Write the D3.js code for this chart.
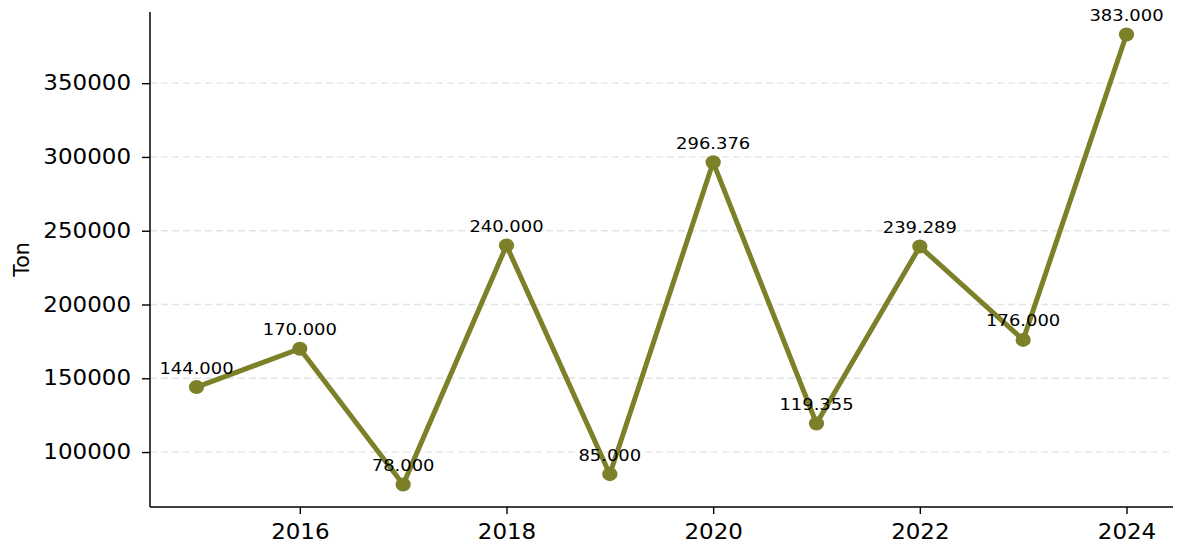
<!DOCTYPE html>
<html><head><meta charset="utf-8">
<script src="https://cdn.jsdelivr.net/npm/d3@7"></script>
<style>
body{margin:0;background:#fff;}
svg{display:block;font-family:"DejaVu Sans",sans-serif;}
</style></head>
<body><svg id="c" width="1178" height="552"></svg>
<script>
const years = [2015,2016,2017,2018,2019,2020,2021,2022,2023,2024];
const values = [144000,170000,78000,240000,85000,296376,119355,239289,176000,383000];
const labels = ["144.000","170.000","78.000","240.000","85.000","296.376","119.355","239.289","176.000","383.000"];
const yTicks = [100000,150000,200000,250000,300000,350000];
const xTicks = [2016,2018,2020,2022,2024];
const yTitle = "Ton";

const svg = d3.select("#c");
const L=150, R=1173, T=12, B=507;
const SX = 1.12;
const x = d3.scaleLinear().domain([2014.55,2024.45]).range([L,R]);
const y = d3.scaleLinear().domain([62750,398250]).range([B,T]);
const color = "#7b8029";

function stretch(sel){
  sel.each(function(){
    const w = this.getComputedTextLength();
    d3.select(this).attr("textLength", w*SX).attr("lengthAdjust","spacingAndGlyphs");
  });
}

// grid
svg.append("g").selectAll("line").data(yTicks).join("line")
  .attr("x1",L).attr("x2",R).attr("y1",d=>y(d)).attr("y2",d=>y(d))
  .attr("stroke","#e3e3e3").attr("stroke-width",1.3).attr("stroke-dasharray","7,4");

const ya = svg.append("g").attr("transform",`translate(${L},0)`)
  .call(d3.axisLeft(y).tickValues(yTicks).tickFormat(d3.format("d")).tickSize(8).tickPadding(11));
const xa = svg.append("g").attr("transform",`translate(0,${B})`)
  .call(d3.axisBottom(x).tickValues(xTicks).tickFormat(d3.format("d")).tickSize(7).tickPadding(10));
[ya,xa].forEach(a=>{
  a.selectAll("text").attr("font-size",20.5).attr("fill","#000").attr("font-family","DejaVu Sans");
  a.selectAll("line").attr("stroke","#000").attr("stroke-width",1.4);
  a.select(".domain").attr("stroke","#000").attr("stroke-width",1.5);
});
ya.select(".domain").attr("d",`M0,${B}V${T}`);
xa.select(".domain").attr("d",`M${L},0H${R}`);
stretch(ya.selectAll("text"));
stretch(xa.selectAll("text"));

svg.append("text").attr("transform",`translate(29,${(T+B)/2}) rotate(-90)`)
  .attr("text-anchor","middle").attr("font-size",20.5).text(yTitle);

const pts = years.map((d,i)=>({x:d,y:values[i],l:labels[i]}));
svg.append("path").datum(pts)
  .attr("d",d3.line().x(d=>x(d.x)).y(d=>y(d.y)))
  .attr("fill","none").attr("stroke",color).attr("stroke-width",5).attr("stroke-linejoin","round");
svg.append("g").selectAll("ellipse").data(pts).join("ellipse")
  .attr("cx",d=>x(d.x)).attr("cy",d=>y(d.y)).attr("rx",7.6).attr("ry",7).attr("fill",color);
const ann = svg.append("g").selectAll("text").data(pts).join("text")
  .attr("x",d=>x(d.x)).attr("y",d=>y(d.y)-13.5)
  .attr("text-anchor","middle").attr("font-size",16).attr("fill","#000").text(d=>d.l);
stretch(ann);
</script></body></html>
